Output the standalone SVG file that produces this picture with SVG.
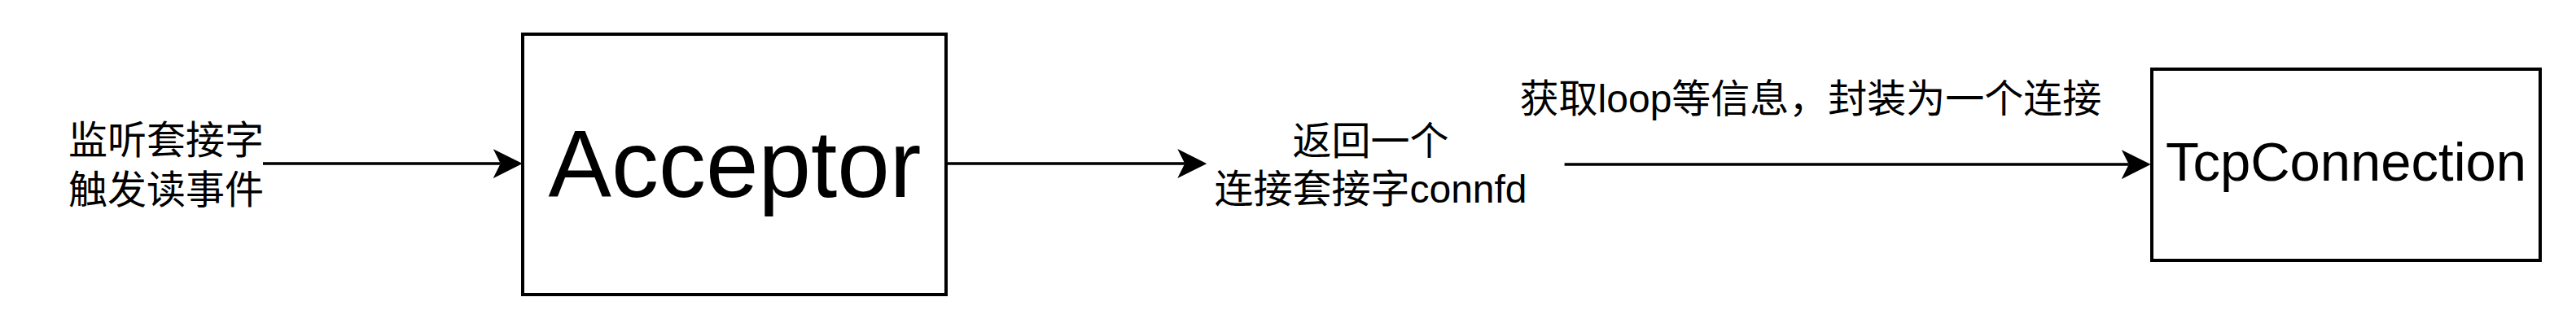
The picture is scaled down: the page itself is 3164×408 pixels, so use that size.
<svg xmlns="http://www.w3.org/2000/svg" width="3164" height="408" viewBox="0 0 3164 408">
  <style>
    .box { fill: #ffffff; stroke: #000000; stroke-width: 4; }
    .edge { fill: none; stroke: #000000; stroke-width: 3.4; marker-end: url(#arrow); }
    .lbl { font-family: "Liberation Sans", "Noto Sans CJK SC", sans-serif; font-size: 48px; fill: #000000; text-anchor: middle; }
    .big { font-family: "Liberation Sans", Arial, sans-serif; fill: #000000; text-anchor: middle; }
  </style>
  <defs>
    <marker id="arrow" markerUnits="userSpaceOnUse" markerWidth="36" markerHeight="36" viewBox="0 0 35 35" refX="8.75" refY="17.5" orient="auto">
      <path d="M0,0 L35,17.5 L0,35 L8.75,17.5 Z" fill="#000000"/>
    </marker>
  </defs>
  <rect width="3164" height="408" fill="#ffffff"/>

  <g id="connectors">
    <path class="edge" d="M323,201 L614.75,201"/>
    <path class="edge" d="M1164,201 L1455.25,201"/>
    <path class="edge" d="M1921.6,202 L2614.75,202"/>
  </g>

  <g id="label-listen">
    <text class="lbl" x="204" y="189">监听套接字</text>
    <text class="lbl" x="204" y="249.5">触发读事件</text>
  </g>

  <g id="node-acceptor">
    <rect class="box" x="642" y="42" width="520" height="320"/>
    <text class="big" x="902.5" y="241.5" font-size="116">Acceptor</text>
  </g>

  <g id="label-connfd">
    <text class="lbl" x="1683.5" y="189.5">返回一个</text>
    <text class="lbl" x="1683.5" y="248.5">连接套接字connfd</text>
  </g>

  <g id="label-wrap">
    <text class="lbl" x="2224" y="138">获取loop等信息，封装为一个连接</text>
  </g>

  <g id="node-tcpconnection">
    <rect class="box" x="2643" y="85" width="477" height="235"/>
    <text class="big" x="2881.5" y="222" font-size="67">TcpConnection</text>
  </g>
</svg>
